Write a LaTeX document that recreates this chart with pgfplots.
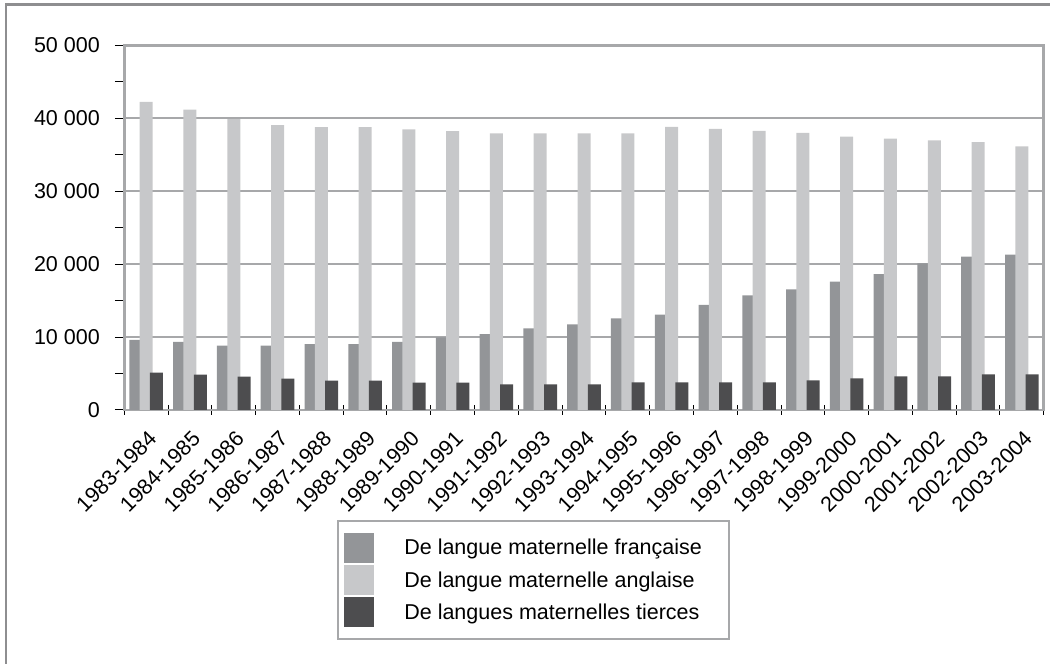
\documentclass[border=0pt]{standalone}
\usepackage{pgfplots}
\pgfplotsset{compat=1.18}
\usepackage{fontspec}
\setmainfont{Liberation Sans}
\definecolor{fr}{HTML}{939598}
\definecolor{en}{HTML}{C7C8CA}
\definecolor{ot}{HTML}{4D4D4F}
\definecolor{gridc}{HTML}{A7A8AA}
\definecolor{framec}{HTML}{8E8E90}
\begin{document}
\begin{tikzpicture}[x=1pt,y=1pt]
\path[use as bounding box] (0,0) rectangle (1050,664);
\draw[framec, line width=2.5pt] (6,-5) -- (6,659.5) -- (1060,659.5);
\begin{axis}[
  at={(124.3pt,254pt)}, anchor=south west,
  scale only axis, width=919.4pt, height=364.6pt,
  ybar, bar width=13pt,
  xmin=-0.5, xmax=20.5, ymin=0, ymax=50000,
  scaled y ticks=false,
  xtick={-0.5,0.5,...,20.5},
  x tick label as interval,
  xticklabels={1983-1984,1984-1985,1985-1986,1986-1987,1987-1988,1988-1989,1989-1990,1990-1991,1991-1992,1992-1993,1993-1994,1994-1995,1995-1996,1996-1997,1997-1998,1998-1999,1999-2000,2000-2001,2001-2002,2002-2003,2003-2004},
  xticklabel style={xshift=1pt, yshift=-13pt, rotate=45, anchor=north east, font=\fontsize{21.5}{25}\selectfont, inner sep=1pt},
  ytick={0,10000,...,50000},
  yticklabels={0,10 000,20 000,30 000,40 000,50 000},
  yticklabel style={font=\fontsize{21.5}{26}\selectfont, xshift=-16pt},
  minor ytick={5000,15000,...,45000},
  tick align=center, tick pos=left,
  major tick length=10pt, minor tick length=10pt,
  ytick style={xshift=-4.5pt},
  ymajorgrids, major grid style={gridc, line width=2pt},
  axis line style={gridc, line width=2.5pt},
  tick style={black, line width=1pt},
  legend style={at={(0.2317,-0.302)}, anchor=north west, draw=gridc, line width=2pt,
    font=\fontsize{21.5}{26}\selectfont, inner xsep=6pt, inner ysep=11.5pt, row sep=2.4pt,
    /tikz/every odd column/.append style={column sep=28pt}},
  legend cell align=left,
  legend image code/.code={\fill[#1] (0pt,-15pt) rectangle (30pt,15pt);},
]
\addplot[fill=fr, draw=none, bar shift=-10.3pt] coordinates {
(0,9600) (1,9330) (2,8820) (3,8820) (4,9050) (5,9050) (6,9330) (7,9970) (8,10420) (9,11200) (10,11750) (11,12570) (12,13080) (13,14400) (14,15730) (15,16550) (16,17600) (17,18650) (18,20120) (19,21030) (20,21300)};
\addplot[fill=en, draw=none, bar shift=0pt] coordinates {
(0,42250) (1,41200) (2,39900) (3,39050) (4,38780) (5,38780) (6,38500) (7,38230) (8,37950) (9,37950) (10,37950) (11,37950) (12,38820) (13,38550) (14,38270) (15,38000) (16,37500) (17,37220) (18,36990) (19,36720) (20,36170)};
\addplot[fill=ot, draw=none, bar shift=10.3pt] coordinates {
(0,5120) (1,4850) (2,4570) (3,4300) (4,4020) (5,4020) (6,3750) (7,3750) (8,3520) (9,3520) (10,3520) (11,3800) (12,3800) (13,3800) (14,3800) (15,4070) (16,4340) (17,4620) (18,4620) (19,4890) (20,4890)};
\legend{\makebox[317pt][l]{De langue maternelle française}, De langue maternelle anglaise, De langues maternelles tierces}
\end{axis}
\end{tikzpicture}
\end{document}
